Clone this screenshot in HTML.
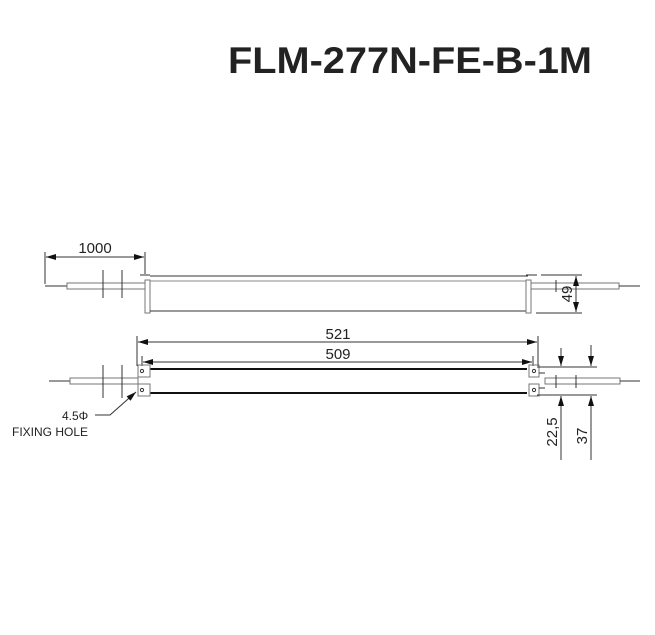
<!DOCTYPE html>
<html><head><style>
html,body{margin:0;padding:0;background:#fff;}
svg{display:block;}
text{font-family:"Liberation Sans",sans-serif;fill:#222;}
</style></head><body>
<svg width="655" height="635" viewBox="0 0 655 635" xmlns="http://www.w3.org/2000/svg">
<defs>
<marker id="a" viewBox="0 0 10 6" refX="10" refY="3" markerWidth="10" markerHeight="6" orient="auto-start-reverse" markerUnits="userSpaceOnUse"><path d="M0,0L10,3L0,6z" fill="#111"/></marker>
</defs>
<text x="228" y="73" font-size="37" font-weight="bold" fill="#111" textLength="364" lengthAdjust="spacingAndGlyphs">FLM-277N-FE-B-1M</text>

<g stroke="#333" stroke-width="1" fill="none">
<!-- top view -->
<line x1="45" y1="252" x2="45" y2="284"/>
<line x1="145" y1="252" x2="145" y2="274"/>
<line x1="46" y1="257" x2="144" y2="257" marker-start="url(#a)" marker-end="url(#a)"/>
<line x1="45" y1="286" x2="67" y2="286"/>
<rect x="67" y="283" width="78" height="6" stroke="#777"/>
<line x1="103" y1="270" x2="103" y2="298"/>
<line x1="122" y1="270" x2="122" y2="298"/>
<rect x="145" y="280" width="5" height="33" stroke="#777"/>
<line x1="140" y1="275" x2="150" y2="275"/>
<line x1="150" y1="276" x2="528" y2="276"/>
<line x1="150" y1="281" x2="526" y2="281" stroke="#888"/>
<line x1="150" y1="311" x2="526" y2="311"/>
<rect x="526" y="280" width="5" height="33" stroke="#777"/>
<line x1="526" y1="275" x2="537" y2="275"/>
<rect x="531" y="283" width="88" height="6" stroke="#777" fill="#fff"/>
<line x1="556" y1="280" x2="556" y2="292"/>
<line x1="619" y1="286" x2="640" y2="286"/>
<line x1="541" y1="275" x2="582" y2="275"/>
<line x1="536" y1="313" x2="582" y2="313"/>
<line x1="576" y1="276" x2="576" y2="312" marker-start="url(#a)" marker-end="url(#a)"/>

<!-- bottom view -->
<line x1="137" y1="336" x2="137" y2="366"/>
<line x1="538" y1="336" x2="538" y2="366"/>
<line x1="138" y1="342" x2="537" y2="342" marker-start="url(#a)" marker-end="url(#a)"/>
<line x1="142" y1="356" x2="142" y2="366"/>
<line x1="533" y1="356" x2="533" y2="366"/>
<line x1="143" y1="362" x2="532" y2="362" marker-start="url(#a)" marker-end="url(#a)"/>
<line x1="150" y1="369" x2="527" y2="369" stroke="#111" stroke-width="2"/>
<line x1="150" y1="393" x2="527" y2="393" stroke="#111" stroke-width="2"/>
<rect x="138" y="365" width="12" height="12" stroke="#777"/>
<rect x="138" y="384" width="12" height="12" stroke="#777"/>
<circle cx="142" cy="371" r="1.6"/>
<circle cx="142" cy="390" r="1.6"/>
<rect x="529" y="365" width="10" height="12" stroke="#777"/>
<rect x="529" y="384" width="10" height="12" stroke="#777"/>
<circle cx="534" cy="371" r="1.6"/>
<circle cx="534" cy="390" r="1.6"/>
<line x1="49" y1="381" x2="70" y2="381"/>
<rect x="70" y="378" width="68" height="6" stroke="#777"/>
<line x1="103" y1="365" x2="103" y2="398"/>
<line x1="122" y1="365" x2="122" y2="398"/>
<rect x="545" y="378" width="75" height="6" stroke="#777"/>
<line x1="539" y1="373" x2="545" y2="373"/>
<line x1="539" y1="388" x2="545" y2="388"/>
<line x1="556" y1="375" x2="556" y2="388"/>
<line x1="576" y1="375" x2="576" y2="388"/>
<line x1="620" y1="381" x2="640" y2="381"/>
<line x1="537" y1="367" x2="597" y2="367"/>
<line x1="537" y1="395" x2="597" y2="395"/>
<line x1="561" y1="348" x2="561" y2="366" marker-end="url(#a)"/>
<line x1="561" y1="460" x2="561" y2="396" marker-end="url(#a)"/>
<line x1="591" y1="345" x2="591" y2="366" marker-end="url(#a)"/>
<line x1="591" y1="460" x2="591" y2="396" marker-end="url(#a)"/>
<polyline points="95,415 110,415 136,392" marker-end="url(#a)"/>
</g>

<text x="95" y="253" font-size="15" text-anchor="middle">1000</text>
<text x="338" y="339" font-size="15" text-anchor="middle">521</text>
<text x="338" y="359" font-size="15" text-anchor="middle">509</text>
<text transform="translate(572,294) rotate(-90)" font-size="15" text-anchor="middle">49</text>
<text transform="translate(557,432) rotate(-90)" font-size="15" text-anchor="middle">22,5</text>
<text transform="translate(587,436) rotate(-90)" font-size="15" text-anchor="middle">37</text>
<text x="62" y="420" font-size="12">4.5Φ</text>
<text x="12" y="436" font-size="12">FIXING HOLE</text>
</svg>
</body></html>
